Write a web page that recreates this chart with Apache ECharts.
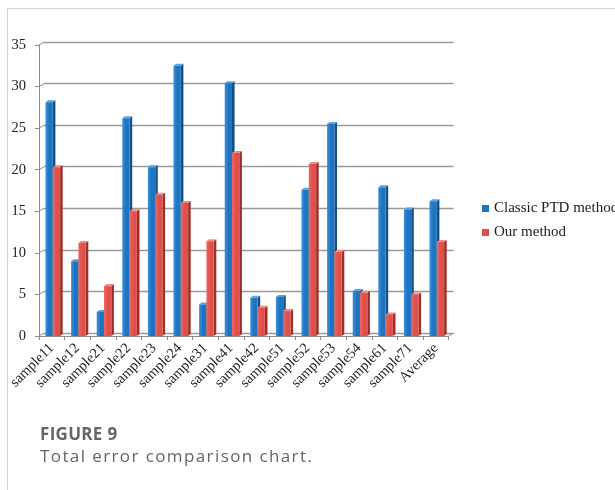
<!DOCTYPE html>
<html>
<head>
<meta charset="utf-8">
<script src="https://cdn.jsdelivr.net/npm/echarts@6/dist/echarts.min.js"></script>
<style>
  html, body { margin: 0; padding: 0; background: #fff; }
  #frame { position: absolute; left: 7px; top: 8px; width: 640px; height: 500px;
           border-left: 1px solid #d4d4d4; border-top: 1px solid #d4d4d4; }
  #chart { position: absolute; left: 0; top: 0; width: 615px; height: 490px; }
  .cap { position: absolute; left: 40px; font-family: "Open Sans", Lato, sans-serif; color: #666; white-space: nowrap; }
  #capTitle { top: 422px; font-size: 17px; font-weight: 700; letter-spacing: 0.3px; }
  #capText { top: 444px; font-size: 17px; letter-spacing: 1.4px; }
</style>
</head>
<body>
<div id="frame"></div>
<div id="chart"></div>
<div class="cap" id="capTitle">FIGURE 9</div>
<div class="cap" id="capText">Total error comparison chart.</div>
<script>
// Total error per sample, two methods
const categories = ['sample11', 'sample12', 'sample21', 'sample22', 'sample23', 'sample24',
  'sample31', 'sample41', 'sample42', 'sample51', 'sample52', 'sample53', 'sample54',
  'sample61', 'sample71', 'Average'];
const classicPTD = [28.1, 9.0, 2.9, 26.2, 20.3, 32.5, 3.8, 30.4, 4.6, 4.7, 17.6, 25.5, 5.4, 17.9, 15.2, 16.2];
const ourMethod = [20.3, 11.2, 6.0, 15.0, 17.0, 16.0, 11.4, 22.0, 3.4, 3.0, 20.7, 10.1, 5.2, 2.6, 5.0, 11.3];
const yTicks = [0, 5, 10, 15, 20, 25, 30, 35];

const DEPTH_X = 5, DEPTH_Y = -3;   // offset of the back wall
const serif = '"Liberation Serif", "Times New Roman", serif';

const palette = {
  blue: { front: '#1f74c0', light: '#3a8fd6', side: '#144f86', top: '#5aa3e0' },
  red:  { front: '#e0504b', light: '#ea6a64', side: '#9e2f2c', top: '#f08a85' }
};

// One column drawn as a small box: front face, right side and top face
function boxRenderer(colors, slot) {
  return function (params, api) {
    const idx = api.value(0);
    const val = api.value(1);
    const top = api.coord([idx, val]);
    const base = api.coord([idx, 0]);
    const cw = api.size([1, 0])[0];
    const w = cw * 0.285;
    const dx = 2.6, dy = -2;
    const x0 = top[0] + 1 + (slot === 0 ? -w : 0);
    const x1 = x0 + w;
    const yt = top[1], yb = base[1];
    return {
      type: 'group',
      children: [
        { type: 'polygon', shape: { points: [[x1, yt], [x1 + dx, yt + dy], [x1 + dx, yb + dy], [x1, yb]] },
          style: { fill: colors.side } },
        { type: 'polygon', shape: { points: [[x0, yt], [x0 + dx, yt + dy], [x1 + dx, yt + dy], [x1, yt]] },
          style: { fill: colors.top } },
        { type: 'rect', shape: { x: x0, y: yt, width: w, height: yb - yt },
          style: { fill: new echarts.graphic.LinearGradient(0, 0, 1, 0, [
            { offset: 0, color: colors.light }, { offset: 0.5, color: colors.front }, { offset: 1, color: colors.front }]) } }
      ]
    };
  };
}

// Slanted edges joining the front axis to the back wall
function depthEdges(params, api) {
  const v = api.value(0);
  const cs = params.coordSys;
  const y = api.coord([0, v])[1];
  const lineStyle = { stroke: '#8c8c8c', lineWidth: 1 };
  const kids = [{ type: 'line', shape: { x1: cs.x, y1: y, x2: cs.x + DEPTH_X, y2: y + DEPTH_Y }, style: lineStyle }];
  if (v === 0) {
    kids.push({ type: 'line', shape: { x1: cs.x + cs.width, y1: y, x2: cs.x + cs.width + DEPTH_X, y2: y + DEPTH_Y }, style: lineStyle });
  }
  return { type: 'group', children: kids };
}

const chart = echarts.init(document.getElementById('chart'), null, { renderer: 'canvas' });
chart.setOption({
  animation: false,
  textStyle: { fontFamily: serif },
  grid: [
    // front plane: axes, labels and columns
    { left: 39, top: 45, width: 409.6, height: 291 },
    // back wall: gridlines
    { left: 39 + DEPTH_X, top: 45 + DEPTH_Y, width: 409.6, height: 291 }
  ],
  xAxis: [
    { type: 'category', gridIndex: 0, data: categories,
      axisLine: { lineStyle: { color: '#8c8c8c', width: 1 } },
      axisTick: { show: true, length: 4, lineStyle: { color: '#8c8c8c' } },
      axisLabel: { rotate: 45, margin: 10, fontSize: 14.5, color: '#222', fontFamily: serif, interval: 0 } },
    { type: 'category', gridIndex: 1, data: categories, show: false }
  ],
  yAxis: [
    { type: 'value', gridIndex: 0, min: 0, max: 35, interval: 5,
      splitLine: { show: false },
      axisLine: { show: true, lineStyle: { color: '#8c8c8c', width: 1 } },
      axisTick: { show: true, length: 4, lineStyle: { color: '#8c8c8c' } },
      axisLabel: { fontSize: 14.5, color: '#222', fontFamily: serif, margin: 13 } },
    { type: 'value', gridIndex: 1, min: 0, max: 35, interval: 5,
      axisLine: { show: false }, axisTick: { show: false }, axisLabel: { show: false },
      splitLine: { show: true, lineStyle: { color: '#9a9a9a', width: 1.3 } } }
  ],
  legend: {
    orient: 'vertical', left: 477, top: 196, itemGap: 9,
    itemWidth: 7, itemHeight: 7, icon: 'rect',
    textStyle: { fontFamily: serif, fontSize: 15, color: '#222' },
    data: ['Classic PTD method', 'Our method']
  },
  series: [
    { type: 'custom', name: 'depth', xAxisIndex: 0, yAxisIndex: 0, silent: true,
      data: yTicks.map(v => [v]), encode: { y: 0 }, renderItem: depthEdges, z: 1 },
    { type: 'custom', name: 'Classic PTD method', xAxisIndex: 0, yAxisIndex: 0,
      itemStyle: { color: palette.blue.front },
      data: classicPTD.map((v, i) => [i, v]), encode: { x: 0, y: 1 },
      renderItem: boxRenderer(palette.blue, 0), z: 3 },
    { type: 'custom', name: 'Our method', xAxisIndex: 0, yAxisIndex: 0,
      itemStyle: { color: palette.red.front },
      data: ourMethod.map((v, i) => [i, v]), encode: { x: 0, y: 1 },
      renderItem: boxRenderer(palette.red, 1), z: 3 }
  ]
});
</script>
</body>
</html>
